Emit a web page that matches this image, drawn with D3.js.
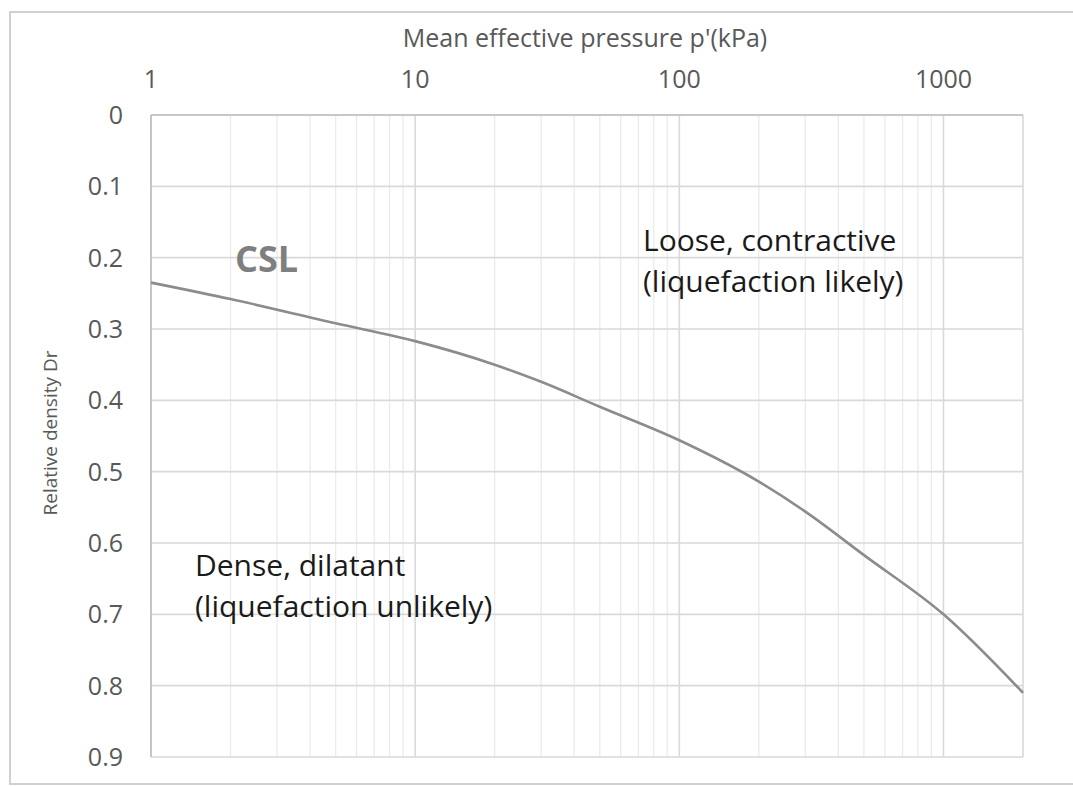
<!DOCTYPE html>
<html>
<head>
<meta charset="utf-8">
<script src="https://cdn.jsdelivr.net/npm/d3@7"></script>
<style>
  body { margin: 0; background: #fff; }
  text { font-family: "Open Sans", Lato, sans-serif; }
</style>
</head>
<body>
<div id="plot"></div>
<script>
// data
const pressure = [1, 2, 5, 10, 20, 30, 50, 100, 200, 300, 500, 1000, 2000];
const density = [0.235, 0.258, 0.292, 0.317, 0.35, 0.374, 0.409, 0.456, 0.514, 0.556, 0.617, 0.70, 0.81];
const xTicks = [1, 10, 100, 1000];
const yTicks = [0, 0.1, 0.2, 0.3, 0.4, 0.5, 0.6, 0.7, 0.8, 0.9];

const W = 1073, H = 786;
const margin = { top: 115, right: 50, bottom: 29, left: 151 };
const width = W - margin.left - margin.right,
      height = H - margin.top - margin.bottom;

const root = d3.select("#plot").append("svg")
    .attr("width", W)
    .attr("height", H);

// outer chart border
root.append("rect")
    .attr("x", 10).attr("y", 12)
    .attr("width", 1080).attr("height", 772)
    .attr("fill", "none")
    .attr("stroke", "#d0d0d0")
    .attr("stroke-width", 2);

const svg = root.append("g")
    .attr("transform", `translate(${margin.left},${margin.top})`);

const x = d3.scaleLog().domain([1, 2000]).range([0, width]);
const y = d3.scaleLinear().domain([0, 0.9]).range([0, height]);

// minor vertical grid
const minor = [];
for (let d = 1; d < 2000; d *= 10) {
  for (let k = 2; k <= 9; k++) if (d * k < 2000) minor.push(d * k);
}
svg.append("g").selectAll("line").data(minor).join("line")
    .attr("x1", d => x(d)).attr("x2", d => x(d))
    .attr("y1", 0).attr("y2", height)
    .attr("stroke", "#ebebeb").attr("stroke-width", 1.3);

// major grid
svg.append("g").selectAll("line").data(yTicks).join("line")
    .attr("x1", 0).attr("x2", width)
    .attr("y1", d => y(d)).attr("y2", d => y(d))
    .attr("stroke", "#d9d9d9").attr("stroke-width", 1.6);

svg.append("g").selectAll("line").data(xTicks.concat([2000])).join("line")
    .attr("x1", d => x(d)).attr("x2", d => x(d))
    .attr("y1", 0).attr("y2", height)
    .attr("stroke", "#d9d9d9").attr("stroke-width", 1.6);

// axis lines (top and left)
svg.append("line").attr("x1", 0).attr("x2", width).attr("y1", 0).attr("y2", 0)
    .attr("stroke", "#bfbfbf").attr("stroke-width", 1.6);
svg.append("line").attr("x1", 0).attr("x2", 0).attr("y1", 0).attr("y2", height)
    .attr("stroke", "#bfbfbf").attr("stroke-width", 1.6);

// tick labels
svg.append("g").selectAll("text").data(xTicks).join("text")
    .attr("x", d => x(d)).attr("y", -27)
    .attr("text-anchor", "middle")
    .attr("font-size", 25).attr("fill", "#595959")
    .text(d => d);

svg.append("g").selectAll("text").data(yTicks).join("text")
    .attr("x", -28).attr("y", d => y(d) + 9)
    .attr("text-anchor", "end")
    .attr("font-size", 25).attr("fill", "#595959")
    .text(d => d);

// axis titles
svg.append("text")
    .attr("x", width / 2 - 2).attr("y", -68)
    .attr("text-anchor", "middle")
    .attr("font-size", 25).attr("fill", "#595959")
    .text("Mean effective pressure p'(kPa)");

svg.append("text")
    .attr("transform", `translate(-94,${height / 2 - 3}) rotate(-90)`)
    .attr("text-anchor", "middle")
    .attr("font-size", 19).attr("fill", "#595959")
    .text("Relative density Dr");

// CSL curve
const line = d3.line()
    .x((d, i) => x(pressure[i]))
    .y(d => y(d))
    .curve(d3.curveMonotoneX);

svg.append("path")
    .datum(density)
    .attr("d", line)
    .attr("fill", "none")
    .attr("stroke", "#8c8c8c")
    .attr("stroke-width", 2.6);

// annotations
svg.append("text")
    .attr("x", 84).attr("y", 157)
    .attr("font-size", 36).attr("font-weight", "bold")
    .attr("fill", "#7f7f7f")
    .text("CSL");

const notes = [
  { tx: 492, ty: 136, lines: ["Loose, contractive", "(liquefaction likely)"] },
  { tx: 44, ty: 461, lines: ["Dense, dilatant", "(liquefaction unlikely)"] }
];
notes.forEach(n => {
  svg.append("text")
      .attr("x", n.tx).attr("y", n.ty)
      .attr("font-size", 30).attr("fill", "#1a1a1a")
    .selectAll("tspan").data(n.lines).join("tspan")
      .attr("x", n.tx).attr("dy", (d, i) => i ? 41 : 0)
      .text(d => d);
});
</script>
</body>
</html>
